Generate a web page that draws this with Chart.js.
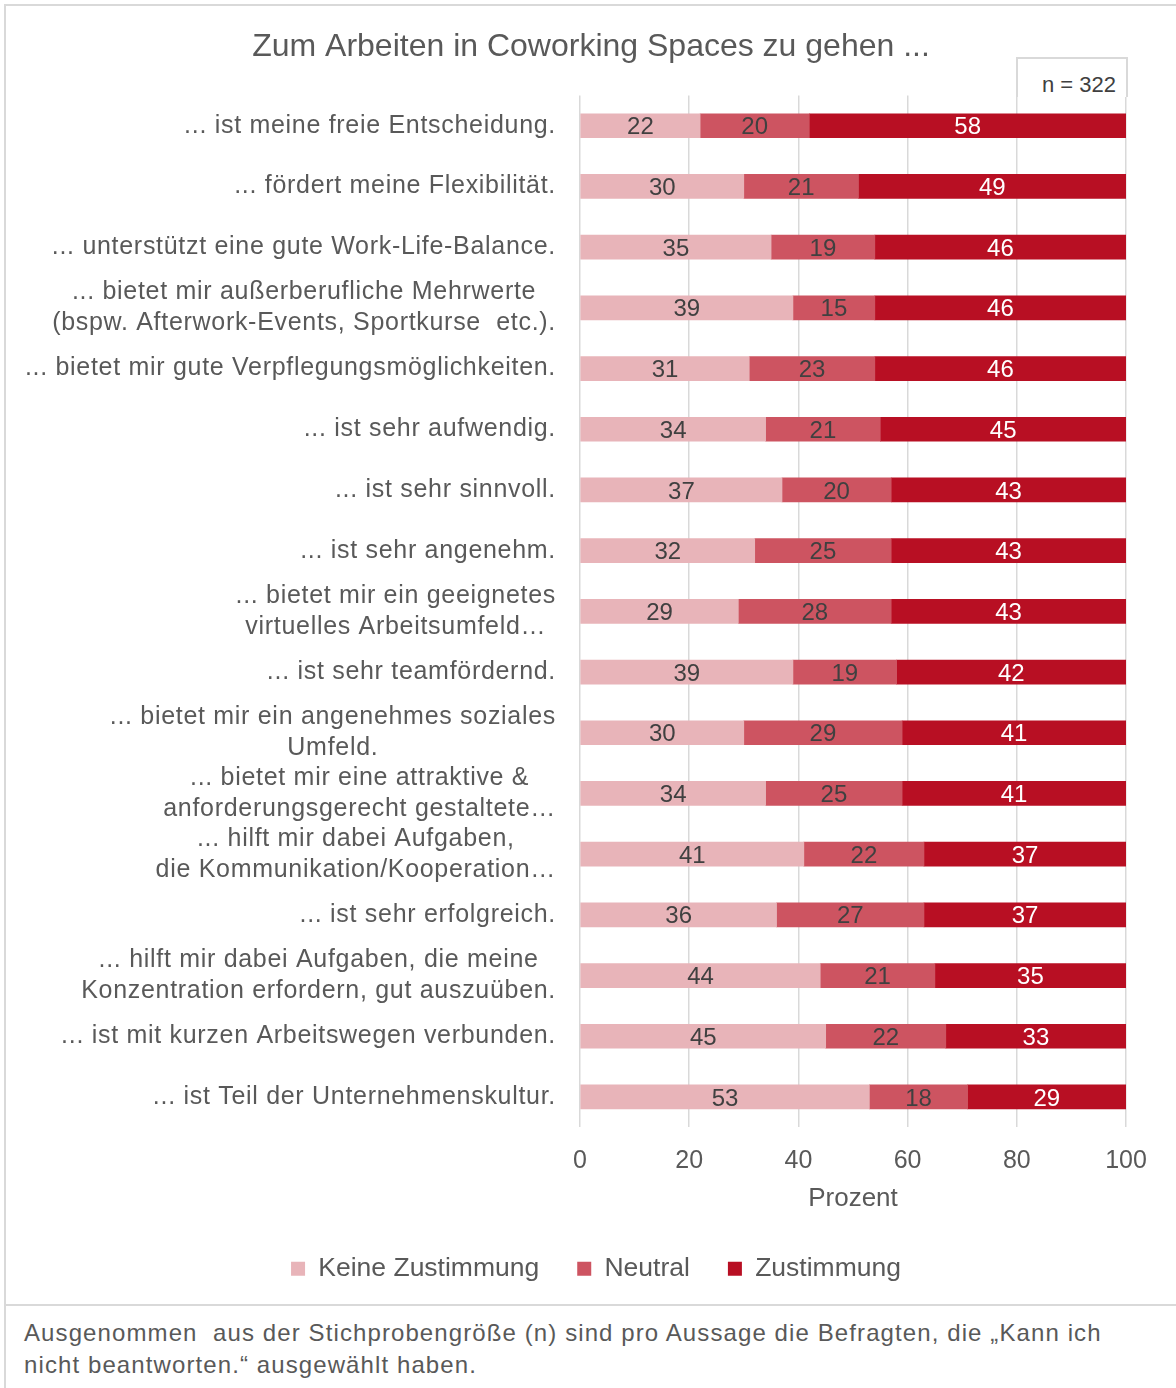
<!DOCTYPE html>
<html lang="de">
<head>
<meta charset="utf-8">
<title>Zum Arbeiten in Coworking Spaces zu gehen</title>
<script src="https://cdn.jsdelivr.net/npm/chart.js@4.4.1/dist/chart.umd.min.js"></script>
<style>
    body { margin: 0; background: #ffffff; font-family: "Liberation Sans", Arial, sans-serif; }
    #seite { position: relative; width: 1176px; height: 1388px; overflow: hidden; }
    #rahmen { position: absolute; left: 4px; top: 4px; width: 1190px; height: 1400px; border: 2px solid #d9d9d9; box-sizing: border-box; }
    #grafik { position: absolute; left: 0; top: 0; width: 1176px; height: 1300px; }
    #stichprobe { position: absolute; left: 1016px; top: 57px; width: 112px; height: 40px; border: 2px solid #d9d9d9; border-bottom: none; box-sizing: border-box; background: #fff;
        font-size: 22px; color: #404040; text-align: right; padding: 13px 10px 0 0; }
    #fussnote { position: absolute; left: 4px; top: 1304px; width: 1190px; border-top: 2px solid #d9d9d9; padding: 11px 0 0 20px;
        font-size: 24px; line-height: 32px; letter-spacing: 1.1px; color: #595959; box-sizing: border-box; }
</style>
</head>
<body>
<div id="seite">
    <div id="rahmen"></div>
    <div id="grafik"><canvas id="graficoCoworking"></canvas></div>
    <div id="stichprobe">n = 322</div>
    <div id="fussnote">Ausgenommen&nbsp; aus der Stichprobengröße (n) sind pro Aussage die Befragten, die „Kann ich<br>nicht beantworten.“ ausgewählt haben.</div>
</div>
<script>
// Aussagen (Kategorien)
const aussagen = [
    "... ist meine freie Entscheidung.",
    "... fördert meine Flexibilität.",
    "... unterstützt eine gute Work-Life-Balance.",
    ["... bietet mir außerberufliche Mehrwerte", "(bspw. Afterwork-Events, Sportkurse  etc.)."],
    "... bietet mir gute Verpflegungsmöglichkeiten.",
    "... ist sehr aufwendig.",
    "... ist sehr sinnvoll.",
    "... ist sehr angenehm.",
    ["... bietet mir ein geeignetes", "virtuelles Arbeitsumfeld…"],
    "... ist sehr teamfördernd.",
    ["... bietet mir ein angenehmes soziales", "Umfeld."],
    ["... bietet mir eine attraktive &", "anforderungsgerecht gestaltete…"],
    ["... hilft mir dabei Aufgaben,", "die Kommunikation/Kooperation…"],
    "... ist sehr erfolgreich.",
    ["... hilft mir dabei Aufgaben, die meine", "Konzentration erfordern, gut auszuüben."],
    "... ist mit kurzen Arbeitswegen verbunden.",
    "... ist Teil der Unternehmenskultur."
];

const keineZustimmung = [22, 30, 35, 39, 31, 34, 37, 32, 29, 39, 30, 34, 41, 36, 44, 45, 53];
const neutral         = [20, 21, 19, 15, 23, 21, 20, 25, 28, 19, 29, 25, 22, 27, 21, 22, 18];
const zustimmung      = [58, 49, 46, 46, 46, 45, 43, 43, 43, 42, 41, 41, 37, 37, 35, 33, 29];

const xTicks = [0, 20, 40, 60, 80, 100];

const schrift = '"Liberation Sans", Arial, sans-serif';
const grau = '#595959';

// Werte in die Balken schreiben
const wertePlugin = {
    id: 'werte',
    afterDatasetsDraw(chart) {
        const ctx = chart.ctx;
        ctx.save();
        ctx.font = '24px ' + schrift;
        ctx.textAlign = 'center';
        ctx.textBaseline = 'middle';
        chart.data.datasets.forEach(function(ds, i) {
            const meta = chart.getDatasetMeta(i);
            meta.data.forEach(function(bar, j) {
                const p = bar.getProps(['x', 'y', 'base'], true);
                ctx.fillStyle = i === 2 ? '#ffffff' : '#404040';
                ctx.fillText(ds.data[j], (p.x + p.base) / 2, p.y + 2);
            });
        });
        ctx.restore();
    }
};

// Achsenbeschriftung links: Block rechtsbündig, Zeilen zentriert (wie Excel)
const aussagenPlugin = {
    id: 'aussagen',
    afterDraw(chart) {
        const ctx = chart.ctx;
        const y = chart.scales.y;
        const rechts = chart.chartArea.left - 24;
        const zeilenHoehe = 31;
        ctx.save();
        ctx.font = '25px ' + schrift;
        ctx.letterSpacing = '0.7px';
        ctx.fillStyle = grau;
        ctx.textAlign = 'center';
        ctx.textBaseline = 'middle';
        aussagen.forEach(function(label, i) {
            const zeilen = Array.isArray(label) ? label : [label];
            const breite = Math.max.apply(null, zeilen.map(z => ctx.measureText(z).width));
            const mitte = y.getPixelForValue(i);
            const start = mitte - (zeilen.length - 1) * zeilenHoehe / 2;
            zeilen.forEach(function(z, k) {
                ctx.fillText(z, rechts - breite / 2, start + k * zeilenHoehe);
            });
        });
        ctx.restore();
    }
};

// Titel und Legende etwas nach rechts schieben (wie im Original)
const verschiebenPlugin = {
    id: 'verschieben',
    afterLayout(chart) {
        chart.titleBlock.left += 28;
        chart.titleBlock.right += 28;
        chart.legend.left += 33;
        chart.legend.right += 33;
    }
};

function crearGrafico() {
    const ctx = document.getElementById('graficoCoworking').getContext('2d');

    new Chart(ctx, {
        type: 'bar',
        data: {
            labels: aussagen,
            datasets: [
                { label: 'Keine Zustimmung', data: keineZustimmung, backgroundColor: '#E8B4B9' },
                { label: 'Neutral', data: neutral, backgroundColor: '#CD5461' },
                { label: 'Zustimmung', data: zustimmung, backgroundColor: '#B80F23' }
            ]
        },
        plugins: [wertePlugin, aussagenPlugin, verschiebenPlugin],
        options: {
            indexAxis: 'y',
            responsive: true,
            maintainAspectRatio: false,
            animation: false,
            barThickness: 24,
            layout: {
                padding: { left: 0, right: 50, top: 0, bottom: 8 }
            },
            plugins: {
                title: {
                    display: true,
                    text: 'Zum Arbeiten in Coworking Spaces zu gehen ...',
                    color: grau,
                    font: { family: schrift, size: 32, weight: 'normal' },
                    padding: { top: 28, bottom: 29 }
                },
                legend: {
                    position: 'bottom',
                    labels: {
                        color: grau,
                        font: { family: schrift, size: 26.5 },
                        boxWidth: 14,
                        boxHeight: 14,
                        padding: 38
                    }
                },
                tooltip: { enabled: false }
            },
            scales: {
                x: {
                    stacked: true,
                    min: 0,
                    max: 100,
                    afterBuildTicks: function(scale) {
                        scale.ticks = xTicks.map(v => ({ value: v }));
                    },
                    grid: { color: '#d9d9d9', lineWidth: 1.5, drawTicks: false },
                    border: { display: false },
                    ticks: {
                        color: grau,
                        font: { family: schrift, size: 25 },
                        padding: 19
                    },
                    title: {
                        display: true,
                        text: 'Prozent',
                        color: grau,
                        font: { family: schrift, size: 26 },
                        padding: { top: -12, bottom: 3 }
                    }
                },
                y: {
                    stacked: true,
                    grid: { display: false },
                    border: { display: false },
                    ticks: { display: false },
                    afterFit: function(scale) {
                        scale.width = 580;
                    }
                }
            }
        }
    });
}

crearGrafico();
</script>
</body>
</html>
